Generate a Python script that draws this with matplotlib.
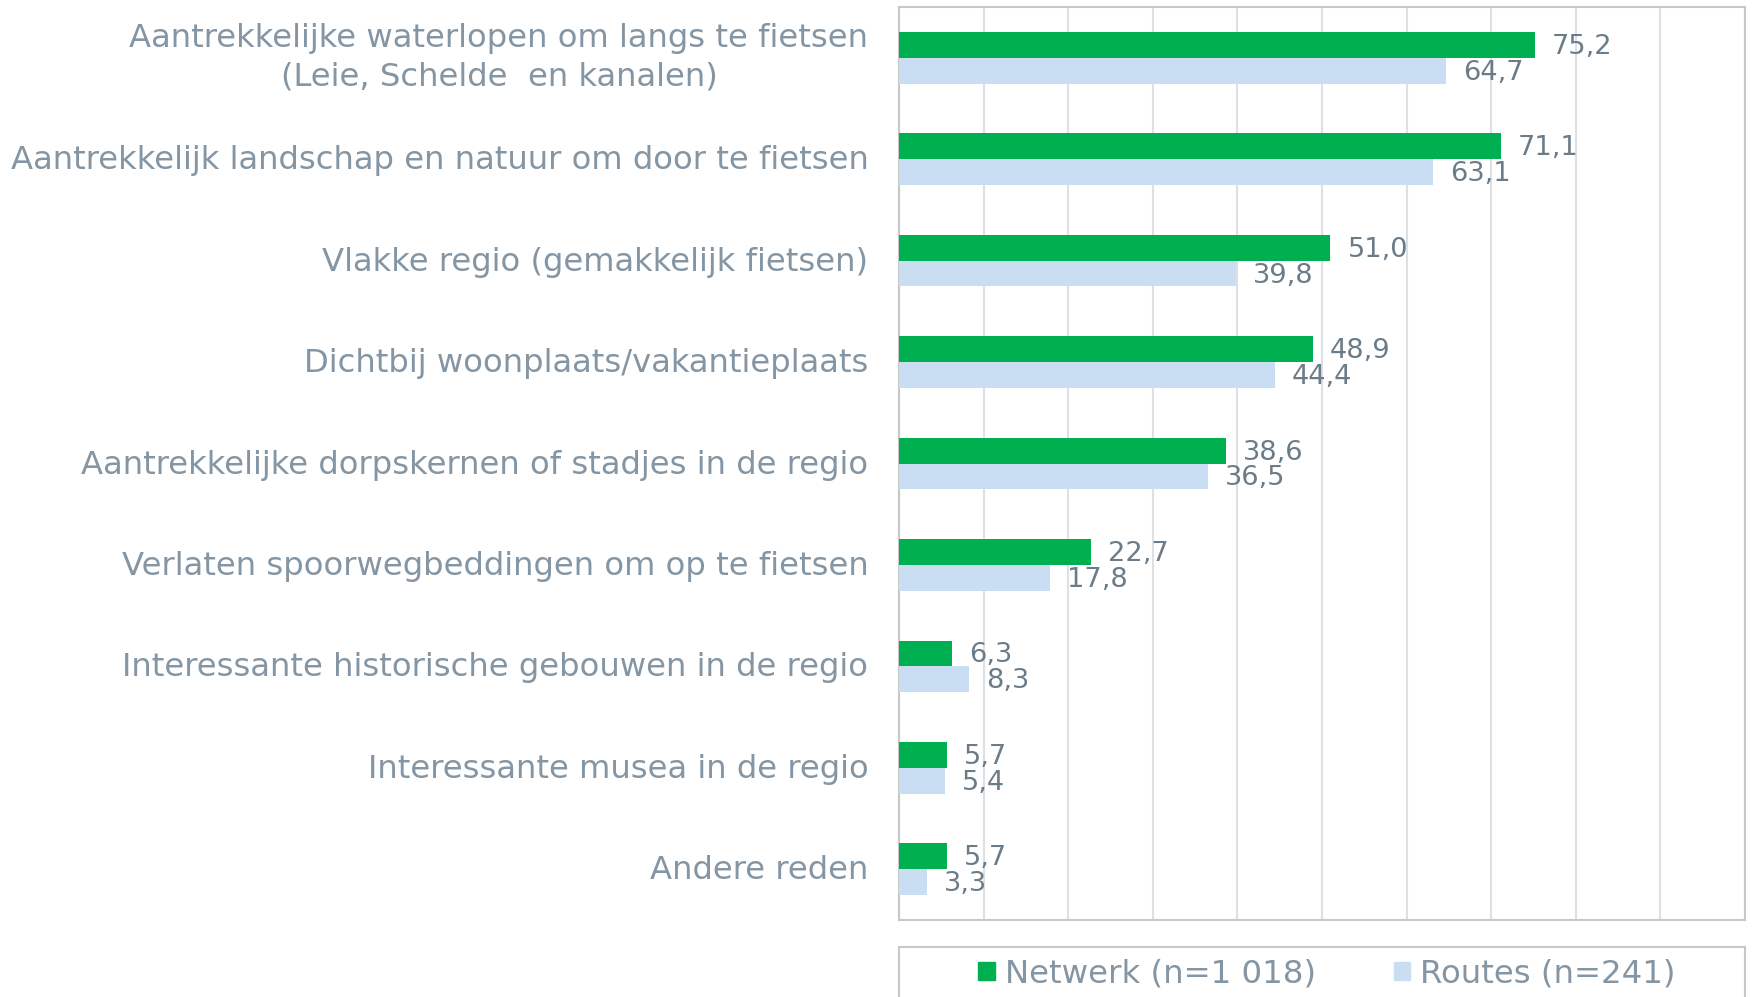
import matplotlib
matplotlib.use("Agg")
import matplotlib.pyplot as plt
from matplotlib.patches import Rectangle, Patch
from matplotlib.transforms import ScaledTranslation
import numpy as np

categories = [
    "Aantrekkelijke waterlopen om langs te fietsen\n(Leie, Schelde  en kanalen)",
    "Aantrekkelijk landschap en natuur om door te fietsen",
    "Vlakke regio (gemakkelijk fietsen)",
    "Dichtbij woonplaats/vakantieplaats",
    "Aantrekkelijke dorpskernen of stadjes in de regio",
    "Verlaten spoorwegbeddingen om op te fietsen",
    "Interessante historische gebouwen in de regio",
    "Interessante musea in de regio",
    "Andere reden",
]
netwerk = [75.2, 71.1, 51.0, 48.9, 38.6, 22.7, 6.3, 5.7, 5.7]
routes = [64.7, 63.1, 39.8, 44.4, 36.5, 17.8, 8.3, 5.4, 3.3]
series_names = ["Netwerk (n=1 018)", "Routes (n=241)"]

GREEN = "#00B050"
BLUE = "#CADEF3"
CAT_COL = "#8495A4"
VAL_COL = "#6B7C89"
GRID = "#DDE0E4"
SPINE = "#C8C8C8"

plt.rcParams['font.family'] = ['DejaVu Sans']

W, H = 1752, 997
fig = plt.figure(figsize=(W / 100, H / 100), dpi=100)
ax = fig.add_axes([899 / W, 1 - 920 / H, (1745 - 899) / W, (920 - 7) / H])

y = np.arange(len(categories))
h = 0.255
ax.barh(y - h / 2, netwerk, height=h, color=GREEN, zorder=3)
ax.barh(y + h / 2, routes, height=h, color=BLUE, zorder=3)

for yi, v in zip(y, netwerk):
    ax.annotate(f"{v:.1f}".replace(".", ","), (v, yi - h / 2), xytext=(17, -2),
                textcoords="offset pixels", va="center", ha="left",
                fontsize=19.6, color=VAL_COL)
for yi, v in zip(y, routes):
    ax.annotate(f"{v:.1f}".replace(".", ","), (v, yi + h / 2), xytext=(17, -2),
                textcoords="offset pixels", va="center", ha="left",
                fontsize=19.6, color=VAL_COL)

ax.set_xlim(0, 100)
ax.set_ylim(len(categories) - 0.5, -0.5)
ax.set_xticks(np.arange(0, 101, 10))
ax.set_xticklabels([])
ax.tick_params(axis="x", length=0)
ax.tick_params(axis="y", length=0, pad=22)
ax.set_yticks(y)
ax.set_yticklabels(categories, fontsize=23.2, color=CAT_COL)
for i, lab in enumerate(ax.get_yticklabels()):
    lab.set_multialignment("center")
    lab.set_linespacing(1.3)
    dy = 7 if i == 0 else 2  # pixels upward
    lab.set_transform(lab.get_transform() + ScaledTranslation(0, dy / 100, fig.dpi_scale_trans))
ax.grid(axis="x", color=GRID, linewidth=1.5, zorder=0)
for s in ax.spines.values():
    s.set_color(SPINE)
    s.set_linewidth(1.5)

# legend box
fig.patches.append(Rectangle((899 / W, -0.05), (1745 - 899) / W, 0.05 + 1 - 947 / H,
                             transform=fig.transFigure, fill=False,
                             edgecolor=SPINE, linewidth=1.5))
handles = [Patch(color=GREEN), Patch(color=BLUE)]
fig.legend(handles, series_names, loc="center", bbox_to_anchor=(1327 / W, 1 - 974 / H),
           ncol=2, frameon=False, fontsize=23.3, labelcolor=CAT_COL,
           handlelength=0.52, handleheight=0.52, handletextpad=0.3, columnspacing=2.4)

fig.savefig("out.png", dpi=100)
